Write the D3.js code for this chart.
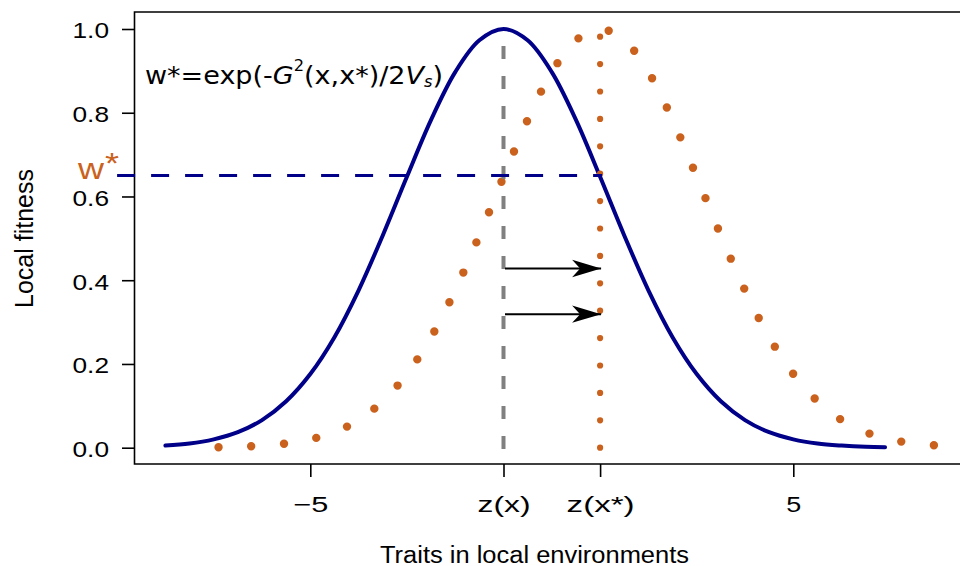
<!DOCTYPE html>
<html>
<head>
<meta charset="utf-8">
<script src="https://cdn.jsdelivr.net/npm/d3@7"></script>
<style>
  html, body { margin: 0; padding: 0; background: #fff; }
  svg { display: block; }
</style>
</head>
<body>
<svg id="chart" width="960" height="566"></svg>
<script>
// ---------------- data ----------------
const xTickValues = [-5, -1, 1, 5];
const xTickLabels = ["\u22125", "z(x)", "z(x*)", "5"];
const yTickValues = [0, 0.2, 0.4, 0.6, 0.8, 1.0];
const yTickLabels = ["0.0", "0.2", "0.4", "0.6", "0.8", "1.0"];

// local fitness curve around z(x) (solid navy)
const blueX = [-8, -7.5, -7, -6.5, -6, -5.5, -5, -4.5, -4, -3.5, -3, -2.5, -2, -1.5, -1,
               -0.5, 0, 0.5, 1, 1.5, 2, 2.5, 3, 3.5, 4, 4.5, 5, 5.5, 6, 6.5, 6.9];
const blueY = [0.005, 0.010, 0.020, 0.037, 0.066, 0.111, 0.176, 0.264, 0.376, 0.507, 0.647, 0.783, 0.897, 0.973, 1.000,
               0.973, 0.897, 0.783, 0.647, 0.507, 0.376, 0.264, 0.176, 0.111, 0.066, 0.037, 0.020, 0.010, 0.005, 0.002, 0.001];

// local fitness curve around z(x*) (dotted orange)
const orangeX = [-6.9, -6.5, -6, -5.5, -5, -4.5, -4, -3.5, -3, -2.5, -2, -1.5, -1, -0.5, 0, 0.5,
                 1, 1.5, 2, 2.5, 3, 3.5, 4, 4.5, 5, 5.5, 6, 6.5, 7, 7.5, 8];
const orangeY = [0.001, 0.002, 0.005, 0.010, 0.020, 0.037, 0.066, 0.111, 0.176, 0.264, 0.376, 0.507, 0.647, 0.783, 0.897, 0.973,
                 1.000, 0.973, 0.897, 0.783, 0.647, 0.507, 0.376, 0.264, 0.176, 0.111, 0.066, 0.037, 0.020, 0.010, 0.005];

const zx = -1;          // z(x)
const zxStar = 1;       // z(x*)
const wStar = 0.65;     // w*
const hLineStartX = -9;
const arrowLevels = [0.428, 0.319];

// ---------------- styles ----------------
const NAVY = "#000088";
const ORANGE = "#CA621D";
const GRAY = "#808080";
const SANS = "'Liberation Sans', Arial, Helvetica, sans-serif";

// ---------------- scales ----------------
const svg = d3.select("#chart");
const x = d3.scaleLinear().domain([-5, 5]).range([310.3, 793.3]);
const y = d3.scaleLinear().domain([0, 1]).range([447.7, 29]);

const plotLeft = 134.5, plotTop = 12, plotBottom = 464, plotRight = 962;

// ---------------- frame ----------------
svg.append("path")
  .attr("d", `M${plotRight},${plotTop}H${plotLeft}V${plotBottom}H${plotRight}`)
  .attr("fill", "none").attr("stroke", "#000").attr("stroke-width", 1.6);

// y axis ticks
const yAxis = d3.axisLeft(y).tickValues(yTickValues).tickSize(12.5)
  .tickFormat((d, i) => yTickLabels[i]);
const gy = svg.append("g").attr("transform", `translate(${plotLeft},0)`).call(yAxis);
gy.select(".domain").remove();
gy.selectAll(".tick line").attr("stroke", "#000").attr("stroke-width", 1.6);
gy.selectAll(".tick text")
  .attr("x", -25.5).attr("dy", null).attr("y", 8.8)
  .attr("font-family", SANS).attr("font-size", 22).attr("fill", "#000")
  .attr("textLength", 36.5).attr("lengthAdjust", "spacingAndGlyphs");

// x axis ticks
const xAxis = d3.axisBottom(x).tickValues(xTickValues).tickSize(13)
  .tickFormat((d, i) => xTickLabels[i]);
const gx = svg.append("g").attr("transform", `translate(0,${plotBottom})`).call(xAxis);
gx.select(".domain").remove();
gx.selectAll(".tick line").attr("stroke", "#000").attr("stroke-width", 1.6);
const xLabLen = [35, 53, 68, 15];
gx.selectAll(".tick text")
  .attr("y", 47.5).attr("dy", null)
  .attr("font-family", SANS).attr("font-size", 22.5).attr("fill", "#000")
  .attr("textLength", (d, i) => xLabLen[i]).attr("lengthAdjust", "spacingAndGlyphs");

// axis titles
svg.append("text")
  .attr("x", 534.5).attr("y", 562.5).attr("text-anchor", "middle")
  .attr("font-family", SANS).attr("font-size", 23)
  .attr("textLength", 309).attr("lengthAdjust", "spacingAndGlyphs")
  .text("Traits in local environments");
svg.append("text")
  .attr("transform", "translate(33,238.5) rotate(-90)").attr("text-anchor", "middle")
  .attr("font-family", SANS).attr("font-size", 25)
  .attr("textLength", 139).attr("lengthAdjust", "spacingAndGlyphs")
  .text("Local fitness");

// ---------------- curves ----------------
const line = d3.line().x(d => x(d[0])).y(d => y(d[1])).curve(d3.curveCatmullRom.alpha(0.5));

svg.append("path")
  .datum(blueX.map((v, i) => [v, blueY[i]]))
  .attr("d", line)
  .attr("fill", "none").attr("stroke", NAVY).attr("stroke-width", 4)
  .attr("stroke-linecap", "round").attr("stroke-linejoin", "round");

svg.append("path")
  .datum(orangeX.map((v, i) => [v, orangeY[i]]))
  .attr("d", line)
  .attr("fill", "none").attr("stroke", ORANGE).attr("stroke-width", 8.4)
  .attr("stroke-linecap", "round").attr("stroke-dasharray", "0 32.8");

// vertical gray dashed line at z(x)
svg.append("line")
  .attr("x1", x(zx)).attr("x2", x(zx)).attr("y1", y(0) + 1.3).attr("y2", y(1))
  .attr("stroke", GRAY).attr("stroke-width", 4).attr("stroke-dasharray", "13 17");

// vertical orange dotted line at z(x*)
svg.append("line")
  .attr("x1", x(zxStar)).attr("x2", x(zxStar)).attr("y1", y(0)).attr("y2", y(1))
  .attr("stroke", ORANGE).attr("stroke-width", 6.2)
  .attr("stroke-linecap", "round").attr("stroke-dasharray", "0 27.4");

// horizontal navy dashed line at w*
svg.append("line")
  .attr("x1", x(hLineStartX)).attr("x2", x(zxStar) + 2).attr("y1", y(wStar)).attr("y2", y(wStar))
  .attr("stroke", NAVY).attr("stroke-width", 3).attr("stroke-dasharray", "18 16");

// arrows
svg.append("defs").append("marker")
  .attr("id", "arrowhead").attr("viewBox", "-30 -10 32 20")
  .attr("refX", 0).attr("refY", 0)
  .attr("markerWidth", 32).attr("markerHeight", 20)
  .attr("markerUnits", "userSpaceOnUse").attr("orient", "auto")
  .append("path").attr("d", "M0,0L-29,-8.7L-21,0L-29,8.7Z").attr("fill", "#000");

svg.selectAll(".arrow").data(arrowLevels).enter().append("line")
  .attr("class", "arrow")
  .attr("x1", x(zx) + 1.5).attr("x2", x(zxStar) + 1)
  .attr("y1", d => y(d)).attr("y2", d => y(d))
  .attr("stroke", "#000").attr("stroke-width", 2)
  .attr("marker-end", "url(#arrowhead)");

// ---------------- annotations ----------------
svg.append("text")
  .attr("x", 78).attr("y", 178.5)
  .attr("font-family", SANS).attr("font-size", 30).attr("fill", ORANGE)
  .attr("textLength", 26).attr("lengthAdjust", "spacingAndGlyphs")
  .text("w");
svg.append("text")
  .attr("x", 105).attr("y", 173)
  .attr("font-family", SANS).attr("font-size", 30).attr("fill", ORANGE)
  .attr("textLength", 14).attr("lengthAdjust", "spacingAndGlyphs")
  .text("*");

const f = svg.append("text")
  .attr("x", 145).attr("y", 83.5)
  .attr("font-family", "'DejaVu Sans', Verdana, sans-serif").attr("font-size", 25).attr("fill", "#000")
  .attr("textLength", 298).attr("lengthAdjust", "spacingAndGlyphs");
f.append("tspan").text("w*=exp(-");
f.append("tspan").attr("font-style", "italic").text("G");
f.append("tspan").attr("font-size", 15).attr("dy", -13).text("2");
f.append("tspan").attr("dy", 13).text("(x,x*)/2");
f.append("tspan").attr("font-style", "italic").text("V");
f.append("tspan").attr("font-size", 15).attr("font-style", "italic").attr("dy", 3).text("s");
f.append("tspan").attr("dy", -3).text(")");
</script>
</body>
</html>
